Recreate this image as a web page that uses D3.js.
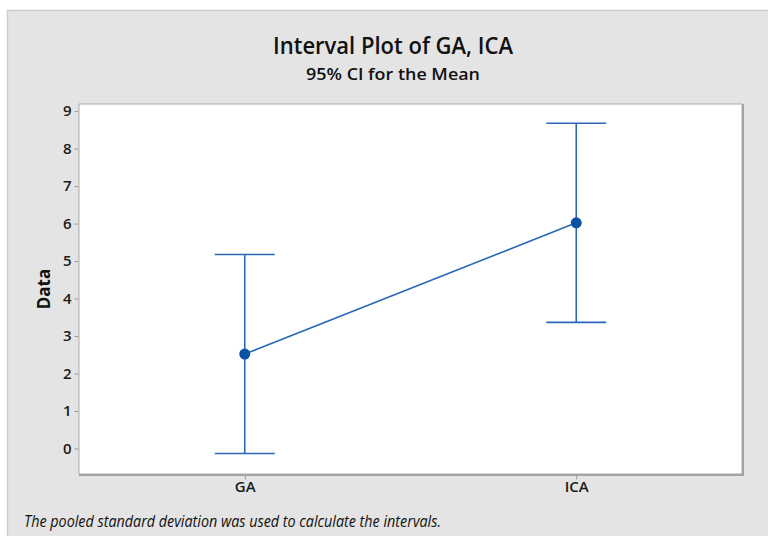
<!DOCTYPE html>
<html>
<head>
<meta charset="utf-8">
<script src="https://cdn.jsdelivr.net/npm/d3@7/dist/d3.min.js"></script>
<style>
  html, body { margin: 0; padding: 0; background: #ffffff; }
  svg { display: block; }
  text { font-family: "Open Sans", "Noto Sans", sans-serif; }
</style>
</head>
<body>
<svg id="chart" width="768" height="536"></svg>
<script>
// Interval plot: group means with 95% confidence intervals (pooled SD)
const groups = ["GA", "ICA"];
const means = [2.52, 6.02];
const lowerCI = [-0.135, 3.365];
const upperCI = [5.175, 8.675];
const yTicks = [0, 1, 2, 3, 4, 5, 6, 7, 8, 9];

const titleText = "Interval Plot of GA, ICA";
const subtitleText = "95% CI for the Mean";
const yLabelText = "Data";
const noteText = "The pooled standard deviation was used to calculate the intervals.";

const W = 768, H = 536;
const plot = { left: 79, top: 104, right: 742, bottom: 474 };
const lineColor = "#2a68b5";
const dotColor = "#0a52a3";

const svg = d3.select("#chart");

// outer grey panel
svg.append("rect").attr("x", 7).attr("y", 10).attr("width", W - 7).attr("height", H - 10)
  .attr("fill", "#e4e4e4");
svg.append("line").attr("x1", 7).attr("x2", W).attr("y1", 10.5).attr("y2", 10.5)
  .attr("stroke", "#cdcdcd").attr("stroke-width", 1.5);
svg.append("line").attr("x1", 7.5).attr("x2", 7.5).attr("y1", 10).attr("y2", H)
  .attr("stroke", "#cdcdcd").attr("stroke-width", 1.5);

// titles
svg.append("text").attr("x", 393).attr("y", 54).attr("text-anchor", "middle")
  .attr("font-size", 24).attr("font-weight", 600).attr("fill", "#111")
  .attr("textLength", 240).attr("lengthAdjust", "spacingAndGlyphs")
  .text(titleText);
svg.append("text").attr("x", 393).attr("y", 80).attr("text-anchor", "middle")
  .attr("font-size", 17).attr("font-weight", 600).attr("fill", "#111")
  .attr("textLength", 174).attr("lengthAdjust", "spacingAndGlyphs")
  .text(subtitleText);

// scales
const x = d3.scalePoint().domain(groups).range([plot.left, plot.right]).padding(0.5);
const y = d3.scaleLinear().domain([-0.68, 9.19]).range([plot.bottom, plot.top]);

// data region
svg.append("rect").attr("x", plot.left).attr("y", plot.top)
  .attr("width", plot.right - plot.left).attr("height", plot.bottom - plot.top)
  .attr("fill", "#ffffff").attr("stroke", "#acacac").attr("stroke-width", 1);
svg.append("line").attr("x1", plot.right + 1).attr("x2", plot.right + 1)
  .attr("y1", plot.top).attr("y2", plot.bottom + 1.5)
  .attr("stroke", "#a3a3a3").attr("stroke-width", 2);
svg.append("line").attr("x1", plot.left).attr("x2", plot.right + 2)
  .attr("y1", plot.bottom + 1).attr("y2", plot.bottom + 1)
  .attr("stroke", "#a3a3a3").attr("stroke-width", 2);

// y axis
const yAxis = svg.append("g").attr("transform", `translate(${plot.left - 0.5},0)`)
  .call(d3.axisLeft(y).tickValues(yTicks).tickSize(4).tickPadding(3).tickFormat(d3.format("d")));
yAxis.attr("font-size", 15).attr("font-family", "'Open Sans', sans-serif").attr("font-weight", 600);
yAxis.select(".domain").remove();
yAxis.selectAll(".tick line").attr("stroke", "#999");
yAxis.selectAll(".tick text").attr("fill", "#1a1a1a");

// x axis
const xAxis = svg.append("g").attr("transform", `translate(0,${plot.bottom + 1.5})`)
  .call(d3.axisBottom(x).tickSize(4).tickPadding(2));
xAxis.attr("font-size", 15).attr("font-family", "'Open Sans', sans-serif").attr("font-weight", 600);
xAxis.select(".domain").remove();
xAxis.selectAll(".tick line").attr("stroke", "#999");
xAxis.selectAll(".tick text").attr("fill", "#1a1a1a");

// y label
svg.append("text").attr("transform", `translate(50,${(plot.top + plot.bottom) / 2}) rotate(-90)`)
  .attr("text-anchor", "middle").attr("font-size", 17).attr("font-weight", 700).attr("fill", "#111")
  .text(yLabelText);

// intervals
const rows = groups.map((g, i) => ({ g, mean: means[i], lo: lowerCI[i], hi: upperCI[i] }));
const capHalf = 30;
const bars = svg.append("g").attr("stroke", lineColor).attr("stroke-width", 1.6).attr("fill", "none");
rows.forEach(r => {
  const cx = x(r.g);
  bars.append("line").attr("x1", cx).attr("x2", cx).attr("y1", y(r.hi)).attr("y2", y(r.lo));
  bars.append("line").attr("x1", cx - capHalf).attr("x2", cx + capHalf).attr("y1", y(r.hi)).attr("y2", y(r.hi));
  bars.append("line").attr("x1", cx - capHalf).attr("x2", cx + capHalf).attr("y1", y(r.lo)).attr("y2", y(r.lo));
});

// connect means
svg.append("path").datum(rows)
  .attr("d", d3.line().x(d => x(d.g)).y(d => y(d.mean)))
  .attr("fill", "none").attr("stroke", lineColor).attr("stroke-width", 1.6);

svg.append("g").selectAll("circle").data(rows).join("circle")
  .attr("cx", d => x(d.g)).attr("cy", d => y(d.mean)).attr("r", 5.5)
  .attr("fill", dotColor);

// footnote
svg.append("text").attr("x", 24).attr("y", 527)
  .attr("font-size", 15.5).attr("font-style", "italic").attr("fill", "#111")
  .attr("textLength", 417).attr("lengthAdjust", "spacingAndGlyphs")
  .text(noteText);
</script>
</body>
</html>
